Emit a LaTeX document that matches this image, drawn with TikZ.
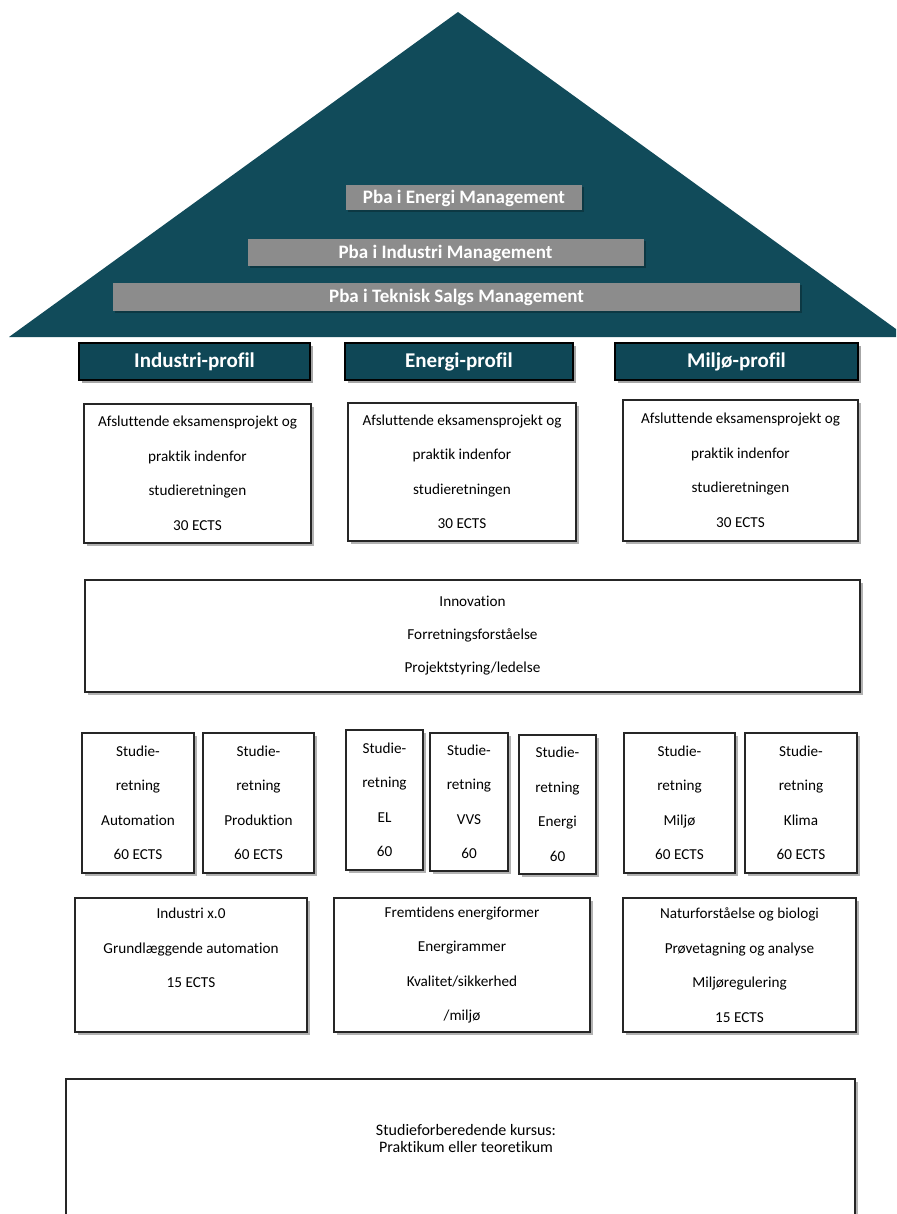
\documentclass[tikz,border=0pt]{standalone}
\usepackage{fontspec}
\setmainfont[Ligatures=NoCommon]{Carlito}
\usetikzlibrary{shadows}
\definecolor{teal1}{HTML}{114B5A}
\definecolor{teal2}{HTML}{0F4756}
\definecolor{barg}{HTML}{8C8C8C}
\tikzset{
  box/.style={draw=black!85, line width=1.3pt, fill=white, align=center,
    inner sep=0pt, font=\fontsize{15.2}{34.5}\selectfont,
    drop shadow={shadow xshift=3pt, shadow yshift=-3pt, opacity=0.3, fill=black}},
  header/.style={draw=black, line width=1.2pt, fill=teal2, text=white, inner sep=0pt,
    font=\bfseries\fontsize{21}{25}\selectfont,
    drop shadow={shadow xshift=3pt, shadow yshift=-3pt, opacity=0.35, fill=black}},
  bar/.style={fill=barg, text=white, inner sep=0pt,
    font=\bfseries\fontsize{19}{22}\selectfont,
    drop shadow={shadow xshift=2pt, shadow yshift=-2pt, opacity=0.25, fill=black}},
}
\begin{document}
\begin{tikzpicture}[x=1pt,y=-1pt]
\useasboundingbox (0,0) rectangle (896,1214);
\clip (0,0) rectangle (896,1214);
\fill[white] (0,0) rectangle (896,1214);
% pyramid
\fill[teal1] (458,12) -- (907,337) -- (9,337) -- cycle;
\node[bar, minimum width=236pt, minimum height=25pt] (pbaE) at (464,198) {Pba i Energi Management};
\node[bar, minimum width=396pt, minimum height=27pt] (pbaI) at (445.5,253) {Pba i Industri Management};
\node[bar, minimum width=687pt, minimum height=28pt] (pbaT) at (456.5,297) {Pba i Teknisk Salgs Management};
% headers
\node[header, minimum width=231pt, minimum height=37pt] (hI) at (194.5,361.5) {Industri-profil};
\node[header, minimum width=228pt, minimum height=37pt] (hE) at (459,361.5) {Energi-profil};
\node[header, minimum width=243pt, minimum height=37pt] (hM) at (736.5,361.5) {Miljø-profil};
% final projects
\node[box, minimum width=227pt, minimum height=139pt] (fI) at (197.5,473.5) {Afsluttende eksamensprojekt og\\praktik indenfor\\studieretningen\\30 ECTS};
\node[box, minimum width=228pt, minimum height=138pt] (fE) at (462,472) {Afsluttende eksamensprojekt og\\praktik indenfor\\studieretningen\\30 ECTS};
\node[box, minimum width=235pt, minimum height=141pt] (fM) at (740.5,470.5) {Afsluttende eksamensprojekt og\\praktik indenfor\\studieretningen\\30 ECTS};
% innovation
\node[box, minimum width=775pt, minimum height=112pt, font=\fontsize{15.2}{33}\selectfont] (inno) at (472.5,636) {Innovation\\Forretningsforståelse\\Projektstyring/ledelse};
% studieretninger
\node[box, minimum width=112pt, minimum height=140pt] (sA) at (138,803) {Studie-\\retning\\Automation\\60 ECTS};
\node[box, minimum width=111pt, minimum height=140pt] (sP) at (258.5,803) {Studie-\\retning\\Produktion\\60 ECTS};
\node[box, minimum width=77pt, minimum height=140pt] (sEL) at (384.5,800) {Studie-\\retning\\EL\\60};
\node[box, minimum width=78pt, minimum height=138pt] (sV) at (469,802) {Studie-\\retning\\VVS\\60};
\node[box, minimum width=77pt, minimum height=139pt] (sEn) at (557.5,804.5) {Studie-\\retning\\Energi\\60};
\node[box, minimum width=111pt, minimum height=140pt] (sM) at (679.5,803) {Studie-\\retning\\Miljø\\60 ECTS};
\node[box, minimum width=112pt, minimum height=140pt] (sK) at (801,803) {Studie-\\retning\\Klima\\60 ECTS};
% 15 ECTS row
\node[box, minimum width=232pt, minimum height=134pt] (bI) at (191,965) {Industri x.0\\Grundlæggende automation\\15 ECTS\\\phantom{x}};
\node[box, minimum width=256pt, minimum height=134pt] (bE) at (462,965) {Fremtidens energiformer\\Energirammer\\Kvalitet/sikkerhed\\/miljø};
\node[box, minimum width=233pt, minimum height=134pt] (bM) at (739.5,965) {Naturforståelse og biologi\\Prøvetagning og analyse\\Miljøregulering\\15 ECTS};
% bottom
\node[box, minimum width=789pt, minimum height=141pt] (base) at (460.5,1149.5) {};
\node[align=center, inner sep=0pt, font=\fontsize{16}{17}\selectfont] (basetxt) at (466,1138) {Studieforberedende kursus:\\Praktikum eller teoretikum};
\end{tikzpicture}
\end{document}
